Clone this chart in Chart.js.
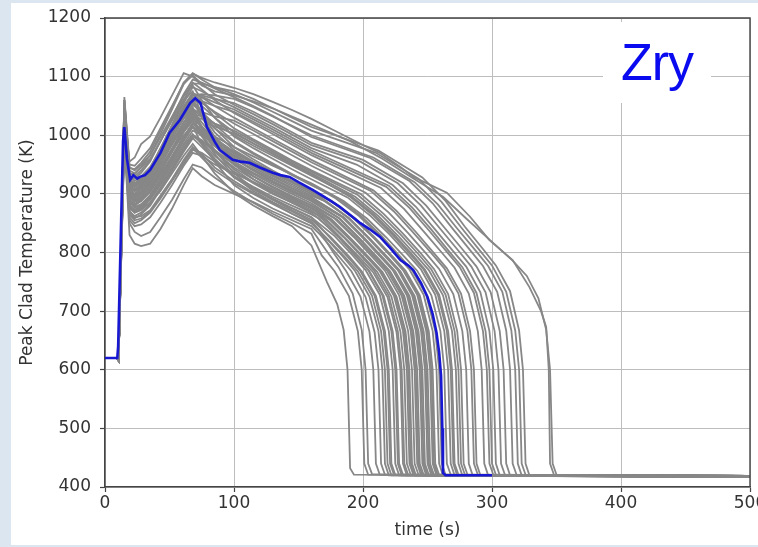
<!DOCTYPE html>
<html>
<head>
<meta charset="utf-8">
<script src="https://cdn.jsdelivr.net/npm/chart.js@4/dist/chart.umd.min.js"></script>
<style>
html,body{margin:0;padding:0;background:#dce6f1;}
#wrap{position:relative;width:758px;height:547px;overflow:hidden;}
#c{position:absolute;left:0;top:0;}
#zry{position:absolute;left:603px;top:22px;width:108px;height:81px;background:#ffffff;color:#0a0af0;
 font-family:"Liberation Sans",Arial,sans-serif;font-size:52px;line-height:81px;text-align:center;letter-spacing:-1px;}
</style>
</head>
<body>
<div id="wrap"><canvas id="c" width="758" height="547"></canvas><div id="zry">Zry</div></div>
<script>
// axis ticks
const xTicks = [0, 100, 200, 300, 400, 500];
const yTicks = [400, 500, 600, 700, 800, 900, 1000, 1100, 1200];

// shared start of every run (s, K)
const tStart = [0, 9.5, 10.5];
const kStart = [620, 620, 616];

// shared time grid (s) for the early phase of each gray run
const tGrid = [15, 19, 23, 28, 35, 43, 52, 61, 68, 75, 85, 100, 115, 130, 145, 160];

// gray runs: temperatures on tGrid (k..) and later [time, temp] pairs (q..)
const k01 = [1020,880,870,875,885,905,935,965,985,965,935,902,880,862,845,812];
const q01 = [172,750, 180,712, 185,668, 188,600, 190,432, 193,421, 500,417];
const k02 = [1005,850,835,828,835,860,890,925,950,945,928,905,885,866,850,832];
const q02 = [168,795, 178,768, 189,726, 196,666, 199,600, 201,440, 204,421, 500,418];
const k03 = [995,830,815,811,815,840,875,915,944,930,915,900,886,870,855,840];
const q03 = [171,805, 181,775, 192,730, 199,668, 202,600, 204,440, 207,422, 500,419];
const k04 = [1040,905,895,900,915,945,975,1000,1015,985,955,915,893,875,860,845];
const q04 = [167,830, 181,794, 191,768, 202,724, 209,664, 212,600, 214,440, 217,421, 500,418];
const k05 = [1010,870,860,862,872,897,925,955,978,962,940,918,900,883,866,850];
const q05 = [172,824, 186,792, 196,768, 207,726, 214,666, 217,600, 219,440, 222,420, 500,417];
const k06 = [1050,925,915,922,940,968,1000,1030,1048,1010,975,935,910,890,872,856];
const q06 = [175,826, 189,794, 199,768, 210,726, 217,666, 220,600, 222,440, 225,421, 500,419];
const k07 = [1025,890,878,882,895,920,950,982,1002,985,960,928,908,890,875,860];
const q07 = [178,828, 192,795, 202,770, 213,728, 220,666, 223,600, 225,440, 228,420, 500,418];
const k08 = [1000,860,850,855,868,892,922,952,975,970,955,930,912,895,880,865];
const q08 = [166,858, 181,826, 195,792, 205,768, 216,726, 223,666, 226,600, 228,440, 231,421, 500,417];
const k09 = [1060,940,935,945,960,990,1025,1060,1075,1035,995,950,925,905,888,872];
const q09 = [169,856, 184,822, 198,790, 208,766, 219,724, 226,664, 229,600, 231,440, 234,420, 500,419];
const k10 = [1015,880,872,878,890,915,945,978,1000,988,965,938,918,900,885,870];
const q10 = [172,855, 187,823, 201,791, 211,767, 222,725, 229,665, 232,600, 234,440, 237,421, 500,418];
const k11 = [1035,900,890,898,912,940,972,1005,1025,1000,972,945,925,908,892,877];
const q11 = [175,856, 190,824, 204,792, 214,768, 225,726, 232,666, 235,600, 237,440, 240,420, 500,417];
const k12 = [1045,915,905,912,928,957,990,1022,1040,1012,982,950,930,912,896,881];
const q12 = [178,858, 193,826, 207,793, 217,769, 228,727, 235,666, 238,600, 240,440, 243,421, 500,419];
const k13 = [1005,865,858,865,880,908,940,975,998,990,972,952,934,916,900,884];
const q13 = [180,856, 195,824, 209,792, 219,768, 230,726, 237,666, 240,600, 242,440, 245,420, 500,418];
const k14 = [1030,895,886,892,906,933,965,998,1020,1005,982,955,936,919,903,888];
const q14 = [182,858, 197,825, 211,792, 221,768, 232,726, 239,666, 242,600, 244,440, 247,421, 500,417];
const k15 = [1055,930,922,930,946,975,1008,1042,1060,1030,998,962,940,922,906,891];
const q15 = [184,860, 199,827, 213,794, 223,770, 234,727, 241,666, 244,600, 246,440, 249,420, 500,419];
const k16 = [1020,885,876,882,898,926,958,992,1015,1002,982,960,942,925,909,894];
const q16 = [186,858, 201,825, 215,792, 225,768, 236,726, 243,666, 246,600, 248,440, 251,421, 500,418];
const k17 = [1040,910,900,908,924,953,986,1020,1042,1022,995,968,948,930,913,897];
const q17 = [170,888, 188,860, 203,827, 217,794, 227,770, 238,727, 245,666, 248,600, 250,440, 253,420, 500,417];
const k18 = [1010,875,868,875,890,918,950,985,1008,1000,985,965,948,932,916,900];
const q18 = [172,886, 190,857, 205,824, 219,792, 229,768, 240,726, 247,666, 250,600, 252,440, 255,421, 500,419];
const k19 = [1050,920,912,920,937,967,1000,1035,1056,1035,1005,975,955,937,920,904];
const q19 = [174,890, 192,860, 207,828, 221,795, 231,770, 242,728, 249,666, 252,600, 254,440, 257,420, 500,418];
const k20 = [1030,895,888,895,910,940,972,1006,1028,1015,995,972,954,938,922,906];
const q20 = [176,888, 194,858, 209,826, 223,793, 233,769, 244,727, 251,666, 254,600, 256,440, 259,421, 500,417];
const k21 = [1045,912,905,913,930,960,995,1030,1052,1040,1018,990,970,952,934,916];
const q21 = [179,892, 197,862, 212,830, 226,796, 236,771, 247,728, 254,666, 257,600, 259,440, 262,420, 500,419];
const k22 = [1015,880,873,880,896,926,960,996,1020,1012,998,980,964,948,933,918];
const q22 = [185,888, 203,858, 218,826, 232,793, 242,769, 253,727, 260,666, 263,600, 265,440, 268,421, 500,418];
const k23 = [1060,945,940,950,966,997,1032,1068,1085,1060,1030,998,978,960,942,925];
const q23 = [188,894, 206,862, 221,830, 235,796, 245,771, 256,728, 263,666, 266,600, 268,440, 271,420, 500,417];
const k24 = [1035,905,898,905,922,952,987,1022,1045,1036,1020,1000,982,965,948,931];
const q24 = [191,896, 209,864, 224,831, 238,797, 248,771, 259,728, 266,666, 269,600, 271,440, 274,421, 500,419];
const k25 = [1025,890,882,890,906,937,972,1008,1032,1028,1015,1003,986,969,952,935];
const q25 = [194,895, 212,862, 227,829, 241,795, 251,770, 262,727, 269,666, 272,600, 274,440, 277,420, 500,418];
const k26 = [1050,925,918,927,944,976,1012,1050,1072,1058,1038,1012,993,975,957,940];
const q26 = [198,900, 216,866, 231,832, 245,798, 255,772, 266,729, 273,666, 276,600, 278,440, 281,421, 500,417];
const k27 = [1040,915,908,916,933,965,1001,1038,1062,1055,1040,1020,1002,984,966,948];
const q27 = [202,902, 220,868, 235,833, 249,798, 259,772, 270,729, 277,666, 280,600, 282,440, 285,420, 500,419];
const k28 = [1020,885,880,888,906,938,975,1014,1040,1040,1032,1025,1008,990,972,954];
const q28 = [206,905, 224,870, 239,834, 253,799, 263,773, 274,730, 281,666, 284,600, 286,440, 289,421, 500,418];
const k29 = [1055,935,930,940,958,990,1028,1066,1090,1078,1060,1038,1020,1002,984,966];
const q29 = [214,910, 232,874, 247,836, 261,800, 271,774, 282,730, 289,666, 292,600, 294,440, 297,420, 500,417];
const k30 = [1030,900,895,904,922,955,993,1032,1058,1058,1050,1040,1023,1006,988,970];
const q30 = [218,912, 236,876, 251,838, 265,801, 275,775, 286,731, 293,666, 296,600, 298,440, 301,421, 500,419];
const k31 = [1045,920,915,925,944,978,1016,1055,1082,1075,1063,1048,1031,1014,996,978];
const q31 = [195,950, 223,915, 241,878, 256,839, 270,802, 280,776, 291,732, 298,666, 301,600, 303,440, 306,420, 500,418];
const k32 = [1065,950,948,960,978,1012,1050,1088,1102,1088,1070,1052,1036,1019,1001,983];
const q32 = [198,955, 227,918, 245,880, 260,840, 274,803, 284,776, 295,732, 302,666, 305,600, 307,440, 310,421, 500,417];
const k33 = [1035,905,900,910,930,964,1003,1043,1070,1068,1062,1055,1040,1023,1005,987];
const q33 = [200,958, 231,918, 249,880, 264,840, 278,803, 288,776, 299,732, 306,666, 309,600, 311,440, 314,420, 500,419];
const k34 = [1050,930,926,936,955,990,1030,1070,1095,1090,1080,1065,1050,1033,1015,997];
const q34 = [205,962, 236,922, 254,884, 269,842, 283,804, 293,777, 304,733, 311,667, 314,600, 316,440, 319,421, 500,418];
const k35 = [1025,895,892,902,922,957,998,1040,1068,1070,1068,1062,1048,1032,1016,1000];
const q35 = [208,962, 240,920, 258,882, 273,841, 287,804, 297,777, 308,733, 315,667, 318,600, 320,440, 323,420, 500,417];
const k36 = [1060,945,942,953,972,1008,1048,1090,1106,1095,1082,1070,1056,1040,1024,1008];
const q36 = [210,970, 243,926, 261,886, 276,843, 290,805, 300,778, 311,733, 318,667, 321,600, 323,440, 326,421, 500,419];
const k37 = [1040,915,912,922,942,977,1018,1060,1088,1088,1082,1075,1062,1046,1030,1014];
const q37 = [212,974, 246,928, 264,888, 279,844, 293,806, 303,778, 314,734, 321,667, 324,600, 326,440, 329,420, 500,418];
const k38 = [1055,935,934,946,966,1002,1044,1087,1105,1098,1090,1081,1070,1057,1043,1028];
const q38 = [177,1009, 203,980, 213,970, 229,946, 239,929, 265,902, 283,861, 298,821, 316,787, 329,741, 338,700, 342,673, 344,600, 345,440, 348,421, 500,417];
const k39 = [1030,955,962,985,998,1030,1068,1106,1100,1085,1075,1068,1058,1046,1032,1018];
const q39 = [190,990, 215,960, 240,925, 262,895, 280,858, 300,818, 316,786, 327,760, 336,722, 342,668, 345,600, 347,440, 350,421, 500,419];
const k40 = [990,855,845,848,860,885,915,948,970,965,950,935,920,905,890,875];
const q40 = [174,856, 189,824, 203,792, 213,768, 224,726, 231,666, 234,600, 236,440, 239,421, 500,418];
const k41 = [1000,865,855,858,870,895,925,958,980,968,945,922,902,884,866,850];
const q41 = [166,838, 177,800, 187,768, 198,725, 205,665, 208,600, 210,440, 213,421, 500,419];
const k42 = [1045,915,905,910,925,955,985,1015,1032,1000,968,930,905,886,870,853];
const q42 = [170,828, 184,794, 194,768, 205,725, 212,666, 215,600, 217,440, 220,420, 500,418];
const k43 = [1015,880,868,872,885,910,940,972,995,980,958,930,910,892,876,860];
const q43 = [174,826, 188,793, 198,768, 209,726, 216,666, 219,600, 221,440, 224,421, 500,417];
const k44 = [1030,898,888,893,906,932,962,995,1015,998,972,942,920,902,885,868];
const q44 = [180,830, 194,796, 204,770, 215,727, 222,666, 225,600, 227,440, 230,420, 500,419];
const k45 = [1050,922,912,918,934,963,996,1028,1045,1015,985,952,930,911,894,876];
const q45 = [170,858, 185,826, 199,793, 209,768, 220,726, 227,666, 230,600, 232,440, 235,421, 500,418];
const k46 = [1008,870,862,868,882,910,942,976,1000,992,975,950,930,912,896,880];
const q46 = [176,856, 191,823, 205,791, 215,767, 226,725, 233,665, 236,600, 238,440, 241,420, 500,417];
const k47 = [1038,905,896,903,918,946,978,1012,1034,1015,990,960,940,921,904,888];
const q47 = [181,859, 196,826, 210,793, 220,769, 231,727, 238,666, 241,600, 243,440, 246,421, 500,419];
const k48 = [1025,890,882,888,903,931,963,997,1020,1008,988,965,945,927,910,894];
const q48 = [185,860, 200,826, 214,793, 224,769, 235,727, 242,666, 245,600, 247,440, 250,420, 500,418];
const k49 = [1052,925,917,925,942,972,1006,1040,1060,1040,1012,980,959,940,922,905];
const q49 = [171,888, 189,859, 204,826, 218,793, 228,769, 239,727, 246,666, 249,600, 251,440, 254,421, 500,417];
const k50 = [1012,878,870,877,893,922,955,990,1014,1006,990,970,952,935,919,903];
const q50 = [175,888, 193,858, 208,826, 222,793, 232,769, 243,727, 250,666, 253,600, 255,440, 258,420, 500,419];
const k51 = [1035,902,895,903,920,950,984,1020,1043,1032,1012,988,968,950,932,915];
const q51 = [181,892, 199,861, 214,829, 228,795, 238,770, 249,728, 256,666, 259,600, 261,440, 264,421, 500,418];
const k52 = [1048,920,913,922,939,971,1006,1043,1066,1050,1030,1005,986,968,950,933];
const q52 = [190,895, 208,863, 223,830, 237,796, 247,771, 258,728, 265,666, 268,600, 270,440, 273,420, 500,417];
const k53 = [1020,888,882,890,907,939,975,1012,1036,1032,1020,1008,990,972,955,938];
const q53 = [196,898, 214,864, 229,831, 243,797, 253,771, 264,728, 271,666, 274,600, 276,440, 279,421, 500,419];
const k54 = [1042,918,912,921,939,972,1009,1047,1072,1065,1050,1030,1012,994,976,958];
const q54 = [208,906, 226,871, 241,835, 255,799, 265,773, 276,730, 283,666, 286,600, 288,440, 291,420, 500,418];
const k55 = [1038,910,905,914,933,967,1005,1044,1070,1066,1056,1044,1027,1010,992,974];
const q55 = [220,914, 238,877, 253,839, 267,801, 277,775, 288,731, 295,666, 298,600, 300,440, 303,421, 500,417];

// highlighted (blue) run
const blueT = [0,9.5,10.2,14,15,17,19.5,22,25,27,31,35,43,50,58,66,70,74,79,85,89,99,105,112,120,130,136,143,150,161,170,182,190,198,205,213,221,229,235,239,245,250,254,257,259,260.5,261.5,262,264,300];
const blueK = [620,620,640,990,1014,960,924,932,926,929,932,941,970,1004,1026,1055,1063,1055,1014,989,975,958,955,953,945,936,932,929,920,907,895,878,864,850,840,827,808,787,778,770,748,724,695,663,630,590,500,424,420,420];

const runs = [[k01,q01],[k02,q02],[k03,q03],[k04,q04],[k05,q05],[k06,q06],[k07,q07],[k08,q08],[k09,q09],[k10,q10],
  [k11,q11],[k12,q12],[k13,q13],[k14,q14],[k15,q15],[k16,q16],[k17,q17],[k18,q18],[k19,q19],[k20,q20],
  [k21,q21],[k22,q22],[k23,q23],[k24,q24],[k25,q25],[k26,q26],[k27,q27],[k28,q28],[k29,q29],[k30,q30],
  [k31,q31],[k32,q32],[k33,q33],[k34,q34],[k35,q35],[k36,q36],[k37,q37],[k38,q38],[k39,q39],[k40,q40],
  [k41,q41],[k42,q42],[k43,q43],[k44,q44],[k45,q45],[k46,q46],[k47,q47],[k48,q48],[k49,q49],[k50,q50],
  [k51,q51],[k52,q52],[k53,q53],[k54,q54],[k55,q55]];

function buildRun(k, q) {
  const pts = [];
  tStart.forEach((t, i) => pts.push({x: t, y: kStart[i]}));
  tGrid.forEach((t, i) => pts.push({x: t, y: k[i]}));
  for (let i = 0; i < q.length; i += 2) pts.push({x: q[i], y: q[i + 1]});
  return pts;
}

const datasets = [{
  data: blueT.map((t, i) => ({x: t, y: blueK[i]})),
  borderColor: '#1818d2', borderWidth: 2.6, order: 0
}];
runs.forEach(([k, q]) => datasets.push({
  data: buildRun(k, q), borderColor: '#878787', borderWidth: 1.8, order: 1
}));

const bgPlugin = {
  id: 'bg',
  beforeDraw(c) {
    const ctx = c.ctx;
    ctx.save();
    ctx.fillStyle = '#dce6f1';
    ctx.fillRect(0, 0, c.width, c.height);
    ctx.fillStyle = '#ffffff';
    ctx.fillRect(11, 3, 747, 542);
    ctx.restore();
  }
};
const framePlugin = {
  id: 'frame',
  afterDatasetsDraw(c) {
    const a = c.chartArea, ctx = c.ctx;
    ctx.save();
    ctx.strokeStyle = '#444';
    ctx.lineWidth = 1.4;
    ctx.beginPath();
    ctx.moveTo(a.left, a.top); ctx.lineTo(a.right, a.top); ctx.lineTo(a.right, a.bottom);
    ctx.stroke();
    ctx.restore();
  }
};

const font = {family: 'DejaVu Sans', size: 17};
new Chart(document.getElementById('c'), {
  type: 'scatter',
  data: {datasets},
  options: {
    responsive: false, animation: false, devicePixelRatio: 1,
    showLine: true,
    layout: {padding: {top: 18, right: 8, left: 0, bottom: 0}},
    plugins: {legend: {display: false}, tooltip: {enabled: false}},
    elements: {point: {radius: 0, hoverRadius: 0}, line: {tension: 0, fill: false}},
    scales: {
      x: {
        type: 'linear', min: xTicks[0], max: xTicks[xTicks.length - 1],
        afterBuildTicks: s => { s.ticks = xTicks.map(v => ({value: v})); },
        ticks: {font, color: '#333', padding: 1, maxRotation: 0, autoSkip: false, callback: v => String(v)},
        grid: {color: '#bdbdbd', lineWidth: 1, tickLength: 5, tickColor: '#444', tickWidth: 1.2},
        border: {display: true, color: '#444', width: 1.6},
        title: {display: true, text: 'time (s)', font, color: '#333', padding: {top: 0, bottom: 6}},
        afterFit: s => { s.height = 60; s.paddingLeft = 0; s.paddingRight = 0; }
      },
      y: {
        type: 'linear', min: yTicks[0], max: yTicks[yTicks.length - 1],
        afterBuildTicks: s => { s.ticks = yTicks.map(v => ({value: v})); },
        ticks: {font, color: '#333', padding: 9, autoSkip: false, callback: v => String(v)},
        grid: {color: '#bdbdbd', lineWidth: 1, tickLength: 5, tickColor: '#444', tickWidth: 1.2},
        border: {display: true, color: '#444', width: 1.6},
        title: {display: true, text: 'Peak Clad Temperature (K)', font, color: '#333', padding: {top: 17, bottom: 0}},
        afterFit: s => { s.width = 105; s.paddingTop = 0; s.paddingBottom = 0; }
      }
    }
  },
  plugins: [bgPlugin, framePlugin]
});
</script>
</body>
</html>
